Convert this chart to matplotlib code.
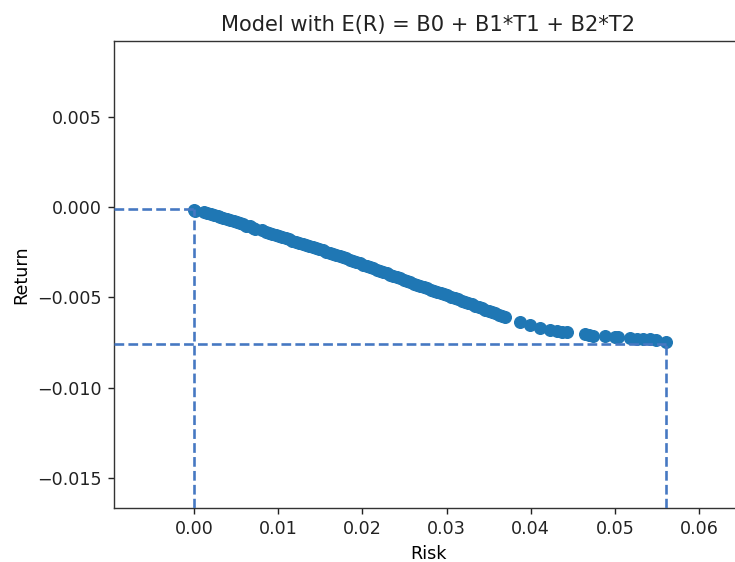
import numpy as np
import matplotlib
matplotlib.use('Agg')
import matplotlib.pyplot as plt

## Data: portfolio risk / expected return

risk = [0.0000, 0.0001, 0.0012, 0.0016, 0.0020, 0.0024, 0.0028, 0.0031, 0.0035, 0.0039,
        0.0043, 0.0047, 0.0051, 0.0055, 0.0058, 0.0062, 0.0066, 0.0070, 0.0073, 0.0081,
        0.0085, 0.0089, 0.0093, 0.0097, 0.0101, 0.0105, 0.0109, 0.0113, 0.0117, 0.0121,
        0.0125, 0.0129, 0.0133, 0.0137, 0.0141, 0.0145, 0.0149, 0.0153, 0.0157, 0.0161,
        0.0165, 0.0169, 0.0173, 0.0177, 0.0181, 0.0185, 0.0189, 0.0193, 0.0197, 0.0201,
        0.0205, 0.0209, 0.0213, 0.0217, 0.0221, 0.0225, 0.0229, 0.0233, 0.0237, 0.0241,
        0.0245, 0.0249, 0.0253, 0.0257, 0.0261, 0.0265, 0.0269, 0.0273, 0.0277, 0.0281,
        0.0285, 0.0289, 0.0293, 0.0297, 0.0301, 0.0305, 0.0310, 0.0314, 0.0318, 0.0322,
        0.0326, 0.0330, 0.0334, 0.0338, 0.0342, 0.0346, 0.0350, 0.0354, 0.0358, 0.0362,
        0.0366, 0.0369,
        0.0387, 0.0399, 0.0411, 0.0423, 0.0431, 0.0437, 0.0443, 0.0464, 0.0469, 0.0474,
        0.0488, 0.0500, 0.0504, 0.0518, 0.0526, 0.0533, 0.0542, 0.0549, 0.0561]

ret = [-0.00015, -0.00022, -0.00030, -0.00036, -0.00040, -0.00045, -0.00050, -0.00056, -0.00062, -0.00067,
       -0.00072, -0.00078, -0.00085, -0.00091, -0.00097, -0.00103, -0.00108, -0.00115, -0.00121, -0.00130,
       -0.00137, -0.00144, -0.00150, -0.00156, -0.00162, -0.00168, -0.00174, -0.00180, -0.00186, -0.00192,
       -0.00198, -0.00204, -0.00210, -0.00216, -0.00222, -0.00228, -0.00235, -0.00241, -0.00247, -0.00253,
       -0.00260, -0.00266, -0.00272, -0.00279, -0.00285, -0.00292, -0.00299, -0.00306, -0.00313, -0.00320,
       -0.00327, -0.00334, -0.00340, -0.00347, -0.00354, -0.00361, -0.00368, -0.00375, -0.00382, -0.00389,
       -0.00396, -0.00404, -0.00411, -0.00418, -0.00425, -0.00431, -0.00438, -0.00444, -0.00451, -0.00458,
       -0.00464, -0.00471, -0.00477, -0.00484, -0.00490, -0.00497, -0.00505, -0.00512, -0.00519, -0.00526,
       -0.00533, -0.00540, -0.00547, -0.00554, -0.00561, -0.00568, -0.00575, -0.00582, -0.00589, -0.00597,
       -0.00604, -0.00610,
       -0.00637, -0.00653, -0.00670, -0.00681, -0.00687, -0.00690, -0.00692, -0.00703, -0.00710, -0.00714,
       -0.00714, -0.00720, -0.00722, -0.00725, -0.00731, -0.00733, -0.00731, -0.00737, -0.00750]

# min / max risk portfolios marked with dashed guide lines
minRisk, minRet = 0.0, -0.0001
maxRisk, maxRet = 0.0561, -0.0076

xlo, xhi = -0.0095, 0.0651
ylo, yhi = -0.01667, 0.00919

## plot

sc = 1.26  # scale of everything relative to default sizes
plt.rcParams['font.size'] = 10*sc
plt.rcParams['axes.linewidth'] = 0.8*sc
plt.rcParams['xtick.major.size'] = 3.5*sc
plt.rcParams['ytick.major.size'] = 3.5*sc
plt.rcParams['xtick.major.width'] = 0.8*sc
plt.rcParams['ytick.major.width'] = 0.8*sc
plt.rcParams['xtick.major.pad'] = 3.5*sc
plt.rcParams['ytick.major.pad'] = 3.5*sc
plt.rcParams['text.color'] = '#222222'
plt.rcParams['xtick.color'] = '#222222'
plt.rcParams['ytick.color'] = '#222222'
plt.rcParams['axes.edgecolor'] = '#333333'

fig = plt.figure(figsize=(7.35, 5.62), dpi=100)
ax = fig.add_axes([114/735, 1 - 508/562, (742 - 114)/735, (508 - 41)/562])

ax.scatter(risk, ret, s=70, color='#1f77b4', zorder=2)

dashColor = '#4678c2'
lw = 1.5*sc
ax.plot([xlo, minRisk], [minRet, minRet], '--', color=dashColor, linewidth=lw, zorder=3)
ax.plot([minRisk, minRisk], [ylo, minRet], '--', color=dashColor, linewidth=lw, zorder=3)
ax.plot([xlo, maxRisk], [maxRet, maxRet], '--', color=dashColor, linewidth=lw, zorder=3)
ax.plot([maxRisk, maxRisk], [ylo, maxRet], '--', color=dashColor, linewidth=lw, zorder=3)

ax.set_xlim(xlo, xhi)
ax.set_ylim(ylo, yhi)
ax.set_xticks([0.00, 0.01, 0.02, 0.03, 0.04, 0.05, 0.06])
ax.set_yticks([-0.015, -0.010, -0.005, 0.000, 0.005])
ax.set_title('Model with E(R) = B0 + B1*T1 + B2*T2', fontsize=12*sc, pad=6*sc)
ax.set_xlabel('Risk', labelpad=4*sc)
ax.set_ylabel('Return', labelpad=4*sc)

plt.savefig('out.png', dpi=100)
